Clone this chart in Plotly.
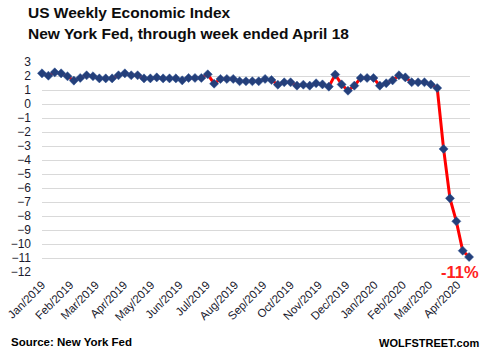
import pandas as pd
import plotly.graph_objects as go

start_week = "2019-01-05"
n_weeks = 68
wei_values = [
    2.19, 2.02, 2.26, 2.19, 1.98, 1.67, 1.86, 2.05, 1.98, 1.83,
    1.83, 1.83, 2.05, 2.19, 2.05, 2.05, 1.83, 1.83, 1.90, 1.83,
    1.83, 1.83, 1.69, 1.86, 1.86, 1.86, 2.12, 1.45, 1.79, 1.79,
    1.79, 1.62, 1.62, 1.62, 1.62, 1.79, 1.71, 1.38, 1.55, 1.55,
    1.31, 1.38, 1.31, 1.48, 1.40, 1.24, 2.10, 1.40, 0.95, 1.31,
    1.86, 1.86, 1.86, 1.31, 1.48, 1.69, 2.05, 1.90, 1.55, 1.55,
    1.55, 1.40, 1.14, -3.21, -6.74, -8.38, -10.48, -10.93,
]
tick_dates = [
    "2019-01-05", "2019-02-05", "2019-03-05", "2019-04-05", "2019-05-05",
    "2019-06-05", "2019-07-05", "2019-08-05", "2019-09-05", "2019-10-05",
    "2019-11-05", "2019-12-05", "2020-01-05", "2020-02-05", "2020-03-05",
    "2020-04-05",
]
tick_labels = [
    "Jan/2019", "Feb/2019", "Mar/2019", "Apr/2019", "May/2019", "Jun/2019",
    "Jul/2019", "Aug/2019", "Sep/2019", "Oct/2019", "Nov/2019", "Dec/2019",
    "Jan/2020", "Feb/2020", "Mar/2020", "Apr/2020",
]
y_ticks = list(range(-12, 4))

weeks = pd.date_range(start_week, periods=n_weeks, freq="7D")

FONT = "Liberation Sans, Arial, sans-serif"
W, H = 487, 355
L, R, T, B = 42, 17, 62, 83
PW, PH = W - L - R, H - T - B


def px(x):
    return (x - L) / PW


def py(y):
    return (H - B - y) / PH


fig = go.Figure()
fig.add_trace(go.Scatter(
    x=weeks, y=wei_values, mode="lines+markers",
    line=dict(color="#FF0000", width=3),
    marker=dict(symbol="diamond", size=7, color="#243F7A",
                line=dict(color="#2F5597", width=0.5)),
    cliponaxis=False, showlegend=False,
))

annos = [
    dict(text="<b>US Weekly Economic Index</b>", x=px(26), y=py(12.5),
         xanchor="left", font=dict(size=15.5, color="#0D0D0D")),
    dict(text="<b>New York Fed, through week ended April 18</b>", x=px(26), y=py(33.5),
         xanchor="left", font=dict(size=15.5, color="#0D0D0D")),
    dict(text="<b>Source: New York Fed</b>", x=px(9), y=py(342),
         xanchor="left", font=dict(size=11.5, color="#000000")),
    dict(text="<b>WOLFSTREET.com</b>", x=px(481), y=py(343),
         xanchor="right", font=dict(size=11, color="#000000")),
    dict(text="<b>-11%</b>", x=px(481), y=py(272),
         xanchor="right", font=dict(size=16.5, color="#FF2020")),
]
for a in annos:
    a.update(xref="paper", yref="paper", yanchor="middle", showarrow=False)

fig.update_layout(
    width=W, height=H,
    margin=dict(l=L, r=R, t=T, b=B, autoexpand=False),
    paper_bgcolor="white", plot_bgcolor="white",
    font=dict(family=FONT, size=12, color="#1A1A2E"),
    annotations=annos,
    xaxis=dict(
        range=["2019-01-05", "2020-04-19"],
        tickmode="array", tickvals=tick_dates, ticktext=tick_labels,
        tickangle=-45, showgrid=False, zeroline=False, showline=False,
        ticks="", tickfont=dict(size=11.5, color="#1A1A2E"),
        ticklabeloverflow="allow", automargin=False, ticklabelstandoff=3,
    ),
    yaxis=dict(
        range=[-12, 3], tickmode="array", tickvals=y_ticks,
        showgrid=True, gridcolor="#D9D9D9", gridwidth=1,
        zeroline=False, showline=False, ticks="",
        ticklabelstandoff=10, automargin=False,
        tickfont=dict(size=12, color="#1A1A2E"),
    ),
)

fig.write_html(
    "out.html",
    config={"displayModeBar": False},
    post_script="document.body.style.margin='0px';document.body.style.overflow='hidden';",
)
